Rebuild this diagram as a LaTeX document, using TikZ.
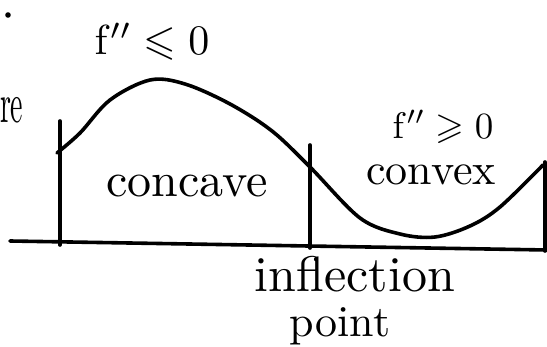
\documentclass[tikz,border=0pt]{standalone}
\usepackage{amsmath, amssymb}
\usetikzlibrary{positioning}

\begin{document}
\begin{tikzpicture}[x=1pt, y=-1pt, line width=3.6pt, line cap=round, line join=round,
  every node/.style={inner sep=0pt, outer sep=0pt}]
\useasboundingbox (0,0) rectangle (547,347);
% axis and the three vertical marks
\coordinate (axisL) at (10,241);
\coordinate (axisR) at (547,250);
\draw (axisL) -- (axisR);
\coordinate (leftTop) at (60,121);
\coordinate (leftBot) at (60,245);
\coordinate (midTop) at (310,145);
\coordinate (midBot) at (310,248);
\coordinate (rightTop) at (545,162);
\coordinate (rightBot) at (545,251);
\draw (leftTop) -- (leftBot);
\draw (midTop) -- (midBot);
\draw (rightTop) -- (rightBot);
% the function
\draw plot[smooth, tension=0.55] coordinates {(57,153) (80,133) (110,100) (150,80) (185,84)
  (230,104) (272,131) (310,167) (360,218) (400,234) (435,237) (470,226) (500,207) (543,165)};
% labels
\node[scale=4.2] (fneg) at (152,42) {$\mathrm{f}''\leqslant 0$};
\node[scale=3.7] (fpos) at (443,127) {$\mathrm{f}''\geqslant 0$};
\node[scale=4.8] (concave) at (187,186) {concave};
\node[scale=4.4] (convex) at (431,175) {convex};
\node[scale=5, anchor=base] (inflect) at (355,292) {inflection};
\node[scale=4.4, anchor=base] (point) at (340,337) {point};
\node[xscale=2.8, yscale=5.6, anchor=base west] (cut) at (0,123) {re};
\fill (8,15) circle (2.8);
\end{tikzpicture}
\end{document}
